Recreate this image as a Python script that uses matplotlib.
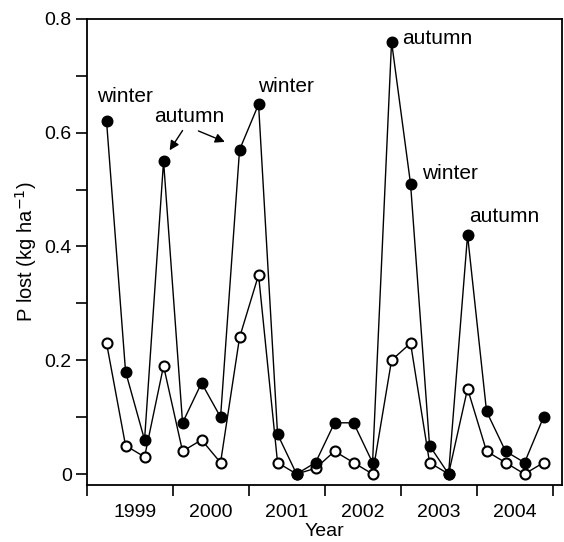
import numpy as np
import matplotlib
matplotlib.use("Agg")
from matplotlib import pyplot as plt

plt.rcParams['font.family'] = ['Liberation Sans', 'DejaVu Sans']

# quarterly P losses, 1999-2004
years = [1999, 2000, 2001, 2002, 2003, 2004]
filled = [0.62, 0.18, 0.06, 0.55,
          0.09, 0.16, 0.10, 0.57,
          0.65, 0.07, 0.00, 0.02,
          0.09, 0.09, 0.02, 0.76,
          0.51, 0.05, 0.00, 0.42,
          0.11, 0.04, 0.02, 0.10]
hollow = [0.23, 0.05, 0.03, 0.19,
          0.04, 0.06, 0.02, 0.24,
          0.35, 0.02, 0.00, 0.01,
          0.04, 0.02, 0.00, 0.20,
          0.23, 0.02, 0.00, 0.15,
          0.04, 0.02, 0.00, 0.02]

# season labels: (text, point index, text x, text y)
seasons = [("winter", 0, 1999.37, 0.663),
           ("winter", 8, 2001.48, 0.682),
           ("autumn", 15, 2003.48, 0.765),
           ("winter", 16, 2003.64, 0.529),
           ("autumn", 19, 2004.36, 0.452)]

x = np.array([y + (q + 0.5) / 4 for y in years for q in range(4)])

fig = plt.figure(figsize=(5.64, 5.42), dpi=100)
ax = fig.add_axes([0.1543, 0.1052, 0.9965 - 0.1543, 0.965 - 0.1052])

ax.plot(x, hollow, '-o', color='black', lw=1, ms=7.2, mfc='white',
        mec='black', mew=1.5, zorder=2)
ax.plot(x, filled, '-o', color='black', lw=1, ms=7.6, mfc='black',
        mec='black', zorder=3)

for txt, i, tx, ty in seasons:
    ax.text(tx, ty, txt, fontsize=15, ha='center', va='center')

# autumn label with two arrows
ax.text(2000.21, 0.629, "autumn", fontsize=15, ha='center', va='center')
ax.annotate("", xy=(x[3] + 0.06, filled[3] + 0.015), xytext=(2000.145, 0.608),
            arrowprops=dict(arrowstyle='-|>', lw=1, color='black', mutation_scale=14))
ax.annotate("", xy=(x[7] - 0.16, filled[7] + 0.012), xytext=(2000.30, 0.605),
            arrowprops=dict(arrowstyle='-|>', lw=1, color='black', mutation_scale=14))

x0, x1 = 1998.868, 2005.118
ax.set_xlim(x0, x1)
ax.set_ylim(-0.0193, 0.8)

ax.set_xticks([x0] + [y + 1 for y in years])
ax.set_xticklabels([])
ax.set_xticks([y + 0.5 for y in years], minor=True)
ax.set_xticklabels([str(y) for y in years], minor=True)
ax.tick_params(axis='x', which='major', direction='out', length=8, width=1.2)
ax.tick_params(axis='x', which='minor', length=0, pad=14, labelsize=14)

ax.set_yticks([0, 0.2, 0.4, 0.6, 0.8])
ax.set_yticklabels(["0", "0.2", "0.4", "0.6", "0.8"])
ax.set_yticks([0.1, 0.3, 0.5, 0.7], minor=True)
ax.tick_params(axis='y', which='both', direction='out', length=8, width=1.2,
               labelsize=14, pad=3)

for s in ax.spines.values():
    s.set_linewidth(1.3)

ax.set_xlabel("Year", fontsize=14, labelpad=1)
ax.set_ylabel("P lost (kg ha$^{-1}$)", fontsize=14.5, labelpad=4)

fig.savefig("out.png", dpi=100)
